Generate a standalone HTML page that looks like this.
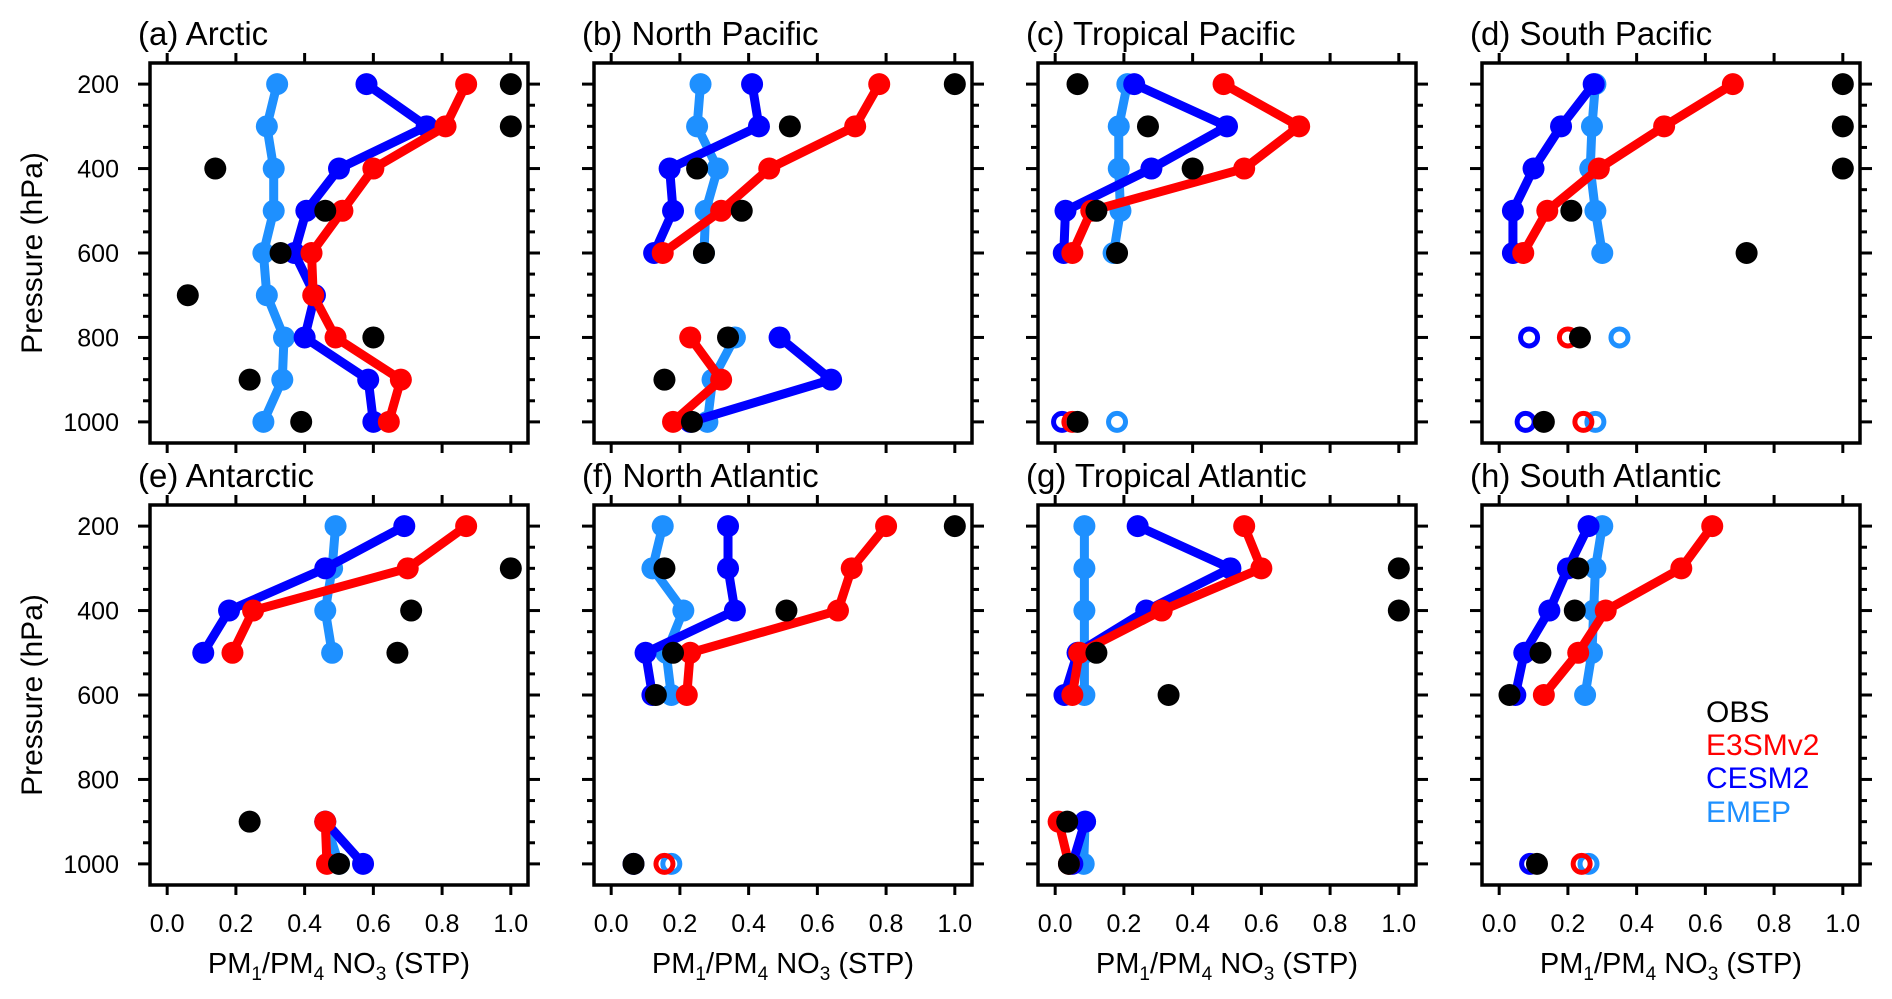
<!DOCTYPE html>
<html><head><meta charset="utf-8"><style>
html,body{margin:0;padding:0;background:#fff;}
svg{display:block;font-family:"Liberation Sans",Arial,sans-serif;}
</style></head><body>
<svg id="chart" width="1892" height="999" viewBox="0 0 1892 999" xmlns="http://www.w3.org/2000/svg"></svg>
<script>
const levels = [200,300,400,500,600,700,800,900,1000];
const titles = ["(a) Arctic","(b) North Pacific","(c) Tropical Pacific","(d) South Pacific","(e) Antarctic","(f) North Atlantic","(g) Tropical Atlantic","(h) South Atlantic"];
const xTicks = [0,0.2,0.4,0.6,0.8,1.0];
const xTickLabels = ["0.0","0.2","0.4","0.6","0.8","1.0"];
const yTicks = [200,400,600,800,1000];
const seriesNames = ["EMEP","CESM2","E3SMv2","OBS"];
const N = null;
const emep = [
 [0.32,0.29,0.31,0.31,0.28,0.29,0.34,0.335,0.28],
 [0.26,0.25,0.31,0.275,0.27,N,0.36,0.295,0.28],
 [0.21,0.185,0.185,0.19,0.17,N,N,N,0.18],
 [0.28,0.27,0.265,0.28,0.30,N,0.35,N,0.28],
 [0.49,0.48,0.46,0.48,N,N,N,0.46,0.50],
 [0.15,0.12,0.21,0.16,0.175,N,N,N,0.175],
 [0.085,0.085,0.085,0.085,0.085,N,N,0.087,0.083],
 [0.30,0.28,0.275,0.27,0.25,N,N,N,0.26]];
const cesm2 = [
 [0.58,0.755,0.50,0.405,0.37,0.43,0.40,0.585,0.60],
 [0.41,0.43,0.17,0.18,0.125,N,0.49,0.64,0.23],
 [0.23,0.50,0.28,0.03,0.025,N,N,N,0.02],
 [0.275,0.18,0.10,0.04,0.04,N,0.087,N,0.077],
 [0.69,0.46,0.18,0.105,N,N,N,0.46,0.57],
 [0.34,0.34,0.36,0.10,0.12,N,N,N,0.065],
 [0.24,0.51,0.265,0.065,0.027,N,N,0.087,0.05],
 [0.26,0.20,0.146,0.073,0.047,N,N,N,0.09]];
const e3sm = [
 [0.87,0.81,0.60,0.51,0.42,0.425,0.49,0.68,0.645],
 [0.78,0.71,0.46,0.32,0.15,N,0.23,0.32,0.18],
 [0.49,0.71,0.55,0.105,0.05,N,N,N,0.05],
 [0.68,0.48,0.29,0.14,0.07,N,0.20,N,0.245],
 [0.87,0.70,0.25,0.19,N,N,N,0.46,0.465],
 [0.80,0.70,0.66,0.23,0.22,N,N,N,0.155],
 [0.55,0.60,0.31,0.07,0.05,N,N,0.01,0.04],
 [0.62,0.53,0.31,0.23,0.13,N,N,N,0.24]];
const obs = [
 [1.0,1.0,0.14,0.46,0.33,0.06,0.60,0.24,0.39],
 [1.0,0.52,0.25,0.38,0.27,N,0.34,0.155,0.235],
 [0.065,0.27,0.40,0.12,0.18,N,N,N,0.065],
 [1.0,1.0,1.0,0.21,0.72,N,0.235,N,0.13],
 [N,1.0,0.71,0.67,N,N,N,0.24,0.50],
 [1.0,0.155,0.51,0.18,0.13,N,N,N,0.065],
 [N,1.0,1.0,0.12,0.33,N,N,0.035,0.04],
 [N,0.23,0.22,0.12,0.03,N,N,N,0.11]];

const svg = document.getElementById('chart');
const NS = "http://www.w3.org/2000/svg";
function mk(tag, attrs, parent){
  const e = document.createElementNS(NS, tag);
  for (const k in attrs) e.setAttribute(k, attrs[k]);
  (parent||svg).appendChild(e);
  return e;
}
const W = 378, H = 380, LEFTS = [150,594,1038,1482], TOPS = [63,505];
const XMIN = -0.05, XMAX = 1.05, YMIN = 150, YMAX = 1050;
const colors = {EMEP:"#1e90ff", CESM2:"#0000ff", E3SMv2:"#ff0000", OBS:"#000000"};

for (let p = 0; p < 8; p++) {
  const col = p % 4, row = Math.floor(p / 4);
  const L = LEFTS[col], T = TOPS[row];
  const xs = v => L + (v - XMIN) / (XMAX - XMIN) * W;
  const ys = v => T + (v - YMIN) / (YMAX - YMIN) * H;
  const g = mk('g', {});
  
  

  const t = mk('text', {x: L - 12, y: T - 18, 'font-size': 33, fill: '#000'}, g);
  t.textContent = titles[p];
  
  

  for (let k = 0; k < xTicks.length; k++) {
    const x = xs(xTicks[k]);
    mk('line', {x1:x, x2:x, y1:T, y2:T-10, stroke:'#000','stroke-width':3}, g);
    mk('line', {x1:x, x2:x, y1:T+H, y2:T+H+10, stroke:'#000','stroke-width':3}, g);
    if (row === 1) {
      const tl = mk('text', {x:x, y:932, 'font-size':25, 'text-anchor':'middle', fill:'#000'}, g);
      tl.textContent = xTickLabels[k];
      
      
    }
  }
  for (let v = 200; v <= 1000; v += 50) {
    const y = ys(v), major = (v % 200 === 0);
    const len = major ? 12 : 7;
    mk('line', {x1:L, x2:L-len, y1:y, y2:y, stroke:'#000','stroke-width':3}, g);
    mk('line', {x1:L+W, x2:L+W+len, y1:y, y2:y, stroke:'#000','stroke-width':3}, g);
  }
  if (col === 0) {
    for (const v of yTicks) {
      const tl = mk('text', {x:119, y:ys(v)+9, 'font-size':25, 'text-anchor':'end', fill:'#000'}, g);
      tl.textContent = String(v);
      
      
    }
    const yt = mk('text', {x:0, y:0, 'font-size':30, 'text-anchor':'middle', fill:'#000',
      transform:`translate(42,${T+H/2}) rotate(-90)`}, g);
    yt.textContent = 'Pressure (hPa)';
    
    
  }
  if (row === 1) {
    const xt = mk('text', {x:L+W/2, y:973, 'font-size':29, 'text-anchor':'middle', fill:'#000'}, g);
    xt.innerHTML = 'PM<tspan font-size="19" dy="7">1</tspan><tspan dy="-7">/PM</tspan><tspan font-size="19" dy="7">4</tspan><tspan dy="-7"> NO</tspan><tspan font-size="19" dy="7">3</tspan><tspan dy="-7"> (STP)</tspan>';
    
    
  }

  const sets = [emep[p], cesm2[p], e3sm[p]];
  const names = ["EMEP","CESM2","E3SMv2"];
  for (let s = 0; s < 3; s++) {
    const vals = sets[s], c = colors[names[s]];
    const sg = mk('g', {}, g);
    
    
    let seg = [];
    const flush = () => {
      if (seg.length > 1) {
        mk('polyline', {points: seg.map(q => q.join(',')).join(' '), fill:'none', stroke:c,
          'stroke-width':9, 'stroke-linejoin':'round', 'stroke-linecap':'round'}, sg);
      }
      seg = [];
    };
    for (let i = 0; i < levels.length; i++) {
      if (vals[i] === null) { flush(); continue; }
      seg.push([xs(vals[i]), ys(levels[i])]);
    }
    flush();
    for (let i = 0; i < levels.length; i++) {
      if (vals[i] === null) continue;
      const prev = i > 0 ? vals[i-1] : null, next = i < levels.length-1 ? vals[i+1] : null;
      const isolated = prev === null && next === null;
      const m = isolated
        ? mk('circle', {cx:xs(vals[i]), cy:ys(levels[i]), r:8.5, fill:'none', stroke:c, 'stroke-width':5}, sg)
        : mk('circle', {cx:xs(vals[i]), cy:ys(levels[i]), r:11, fill:c}, sg);
      
      
    }
  }
  const og = mk('g', {}, g);
  
  
  for (let i = 0; i < levels.length; i++) {
    const v = obs[p][i];
    if (v === null) continue;
    const m = mk('circle', {cx:xs(v), cy:ys(levels[i]), r:11, fill:'#000'}, og);
    
    
  }
  const fr = mk('rect', {x:L, y:T, width:W, height:H, fill:'none', stroke:'#000', 'stroke-width':3.5}, g);
  
  
}

const legY = [722,755,788,822];
const legNames = ["OBS","E3SMv2","CESM2","EMEP"];
const lg = mk('g', {});


for (let i = 0; i < 4; i++) {
  const t = mk('text', {x:1706, y:legY[i], 'font-size':30, fill:colors[legNames[i]]}, lg);
  t.textContent = legNames[i];
  
  
}
</script>
</body></html>
